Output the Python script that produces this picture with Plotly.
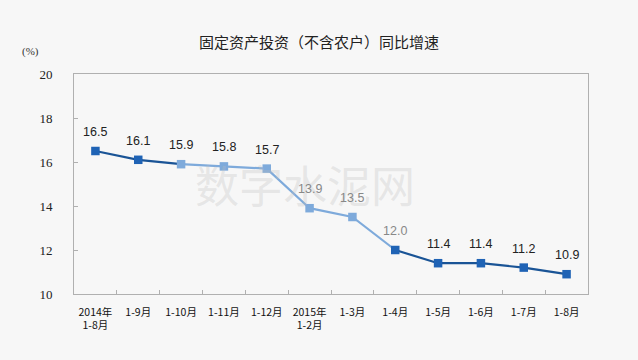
import plotly.graph_objects as go

categories = ["2014年<br>1-8月", "1-9月", "1-10月", "1-11月", "1-12月", "2015年<br>1-2月",
              "1-3月", "1-4月", "1-5月", "1-6月", "1-7月", "1-8月"]
growth = [16.5, 16.1, 15.9, 15.8, 15.7, 13.9, 13.5, 12.0, 11.4, 11.4, 11.2, 10.9]
y_ticks = [10, 12, 14, 16, 18, 20]

DARK = "#1f63b5"
DARK_LINE = "#1a5496"
LIGHT = "#7eaadb"
marker_colors = [DARK, DARK, LIGHT, LIGHT, LIGHT, LIGHT, LIGHT, DARK, DARK, DARK, DARK, DARK]
label_colors = ["#222", "#222", "#222", "#222", "#222", "#888", "#888", "#888", "#222", "#222", "#222", "#222"]

fig = go.Figure()
segments = [(0, 3, DARK_LINE), (2, 8, LIGHT), (7, 12, DARK_LINE)]
for a, b, col in segments:
    fig.add_trace(go.Scatter(x=categories[a:b], y=growth[a:b], mode="lines",
                             line=dict(color=col, width=2.2), hoverinfo="skip", showlegend=False))
fig.add_trace(go.Scatter(x=categories, y=growth, mode="markers",
                         marker=dict(symbol="square", size=8.5, color=marker_colors),
                         showlegend=False))

# watermark (drawn first so labels sit above it)
fig.add_annotation(xref="paper", yref="paper", x=0.45, y=0.5, text="数字水泥网", showarrow=False,
                   font=dict(family="Noto Sans CJK SC", size=44, color="rgba(190,190,190,0.3)"))

for c, v, lc in zip(categories, growth, label_colors):
    fig.add_annotation(x=c, y=v, text=f"{v:.1f}", showarrow=False, yshift=19,
                       font=dict(family="Liberation Sans, Arial", size=12.5, color=lc))

fig.add_annotation(xref="paper", yref="paper", x=-0.085, y=1.065, text="(%)", showarrow=False,
                   xanchor="center", yanchor="bottom",
                   font=dict(family="Liberation Serif", size=11, color="#333"))

fig.update_layout(
    width=638, height=360,
    paper_bgcolor="#f7f7f7", plot_bgcolor="#f7f7f7",
    margin=dict(l=74, r=50, t=74, b=66, autoexpand=False),
    title=dict(text="固定资产投资（不含农户）同比增速", x=0.5, xanchor="center", y=0.88, yanchor="middle",
               font=dict(family="Noto Sans CJK SC", size=15, color="#222")),
    xaxis=dict(type="category", range=[-0.5, len(categories) - 0.5],
               showline=True, linecolor="#b0b0b0", linewidth=1, mirror=True,
               ticks="inside", tickson="boundaries", ticklen=4, tickcolor="#b0b0b0", tickangle=0,
               showgrid=False, automargin=False, ticklabelstandoff=8,
               tickfont=dict(family="Noto Sans CJK SC", size=10.5, color="#111")),
    yaxis=dict(range=[10, 20], tickvals=y_ticks, showline=True, linecolor="#b0b0b0", linewidth=1,
               mirror=True, ticks="inside", ticklen=4, tickcolor="#b0b0b0", showgrid=False,
               zeroline=False, ticklabelstandoff=18, automargin=False,
               tickfont=dict(family="Liberation Serif", size=13, color="#222")),
    hovermode=False,
)

fig.write_html("out.html", config={"displayModeBar": False},
               post_script="document.body.style.margin='0';document.body.style.background='#f7f7f7';")
